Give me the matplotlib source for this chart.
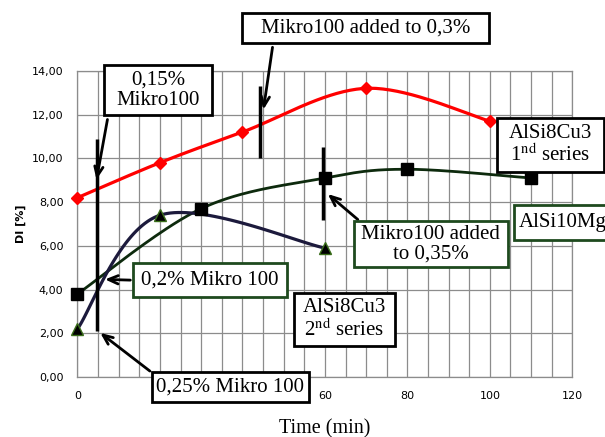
import numpy as np
import matplotlib
matplotlib.use('Agg')
from matplotlib import pyplot as plt
from matplotlib.patches import Rectangle
from matplotlib.ticker import FuncFormatter

plt.rcParams['mathtext.fontset'] = 'stix'

# AlSi8Cu3 1st series (red diamonds)
t_red = [0, 20, 40, 70, 100]
di_red = [8.2, 9.8, 11.2, 13.2, 11.7]

# AlSi10Mg (black squares)
t_mg = [0, 30, 60, 80, 110]
di_mg = [3.8, 7.7, 9.1, 9.5, 9.1]

# AlSi8Cu3 2nd series (triangles)
t_cu2 = [0, 20, 60]
di_cu2 = [2.2, 7.4, 5.9]

# moments of Mikro100 additions: (time, y bottom, y top)
add_lines = [(4.7, 2.1, 10.9), (44.2, 10.0, 13.3), (59.6, 7.2, 10.5)]

x_ticks = [0, 20, 40, 60, 80, 100, 120]
# 20 and 40 sit under the "0,25% Mikro 100" box
x_labels = ['0', '', '', '60', '80', '100', '120']
y_ticks = [0, 2, 4, 6, 8, 10, 12, 14]


def smooth(x, y, n=40):
    # smoothed line like excel (bezier through the points)
    x = np.asarray(x, float)
    y = np.asarray(y, float)
    P = np.c_[x, y]
    P = np.vstack([P[0], P, P[-1]])
    t = np.linspace(0, 1, n)[:, None]
    out = []
    for i in range(len(x) - 1):
        p0, p1, p2, p3 = P[i], P[i + 1], P[i + 2], P[i + 3]
        c1 = p1 + (p2 - p0) / 6
        c2 = p2 - (p3 - p1) / 6
        seg = ((1 - t) ** 3) * p1 + 3 * ((1 - t) ** 2) * t * c1 + 3 * (1 - t) * t ** 2 * c2 + t ** 3 * p2
        out.append(seg)
    out = np.vstack(out)
    return out[:, 0], out[:, 1]


fig = plt.figure(figsize=(6.05, 4.37), dpi=100)
ax = fig.add_axes([0.128, 0.137, 0.818, 0.701])

ax.set_xlim(0, 120)
ax.set_ylim(0, 14)
ax.set_xticks(x_ticks)
ax.set_xticks(np.arange(0, 121, 5), minor=True)
ax.set_yticks(y_ticks)
ax.grid(True, which='major', color='#8c8c8c', lw=0.9)
ax.grid(True, which='minor', axis='x', color='#8c8c8c', lw=0.9)
ax.set_axisbelow(True)
ax.set_xticklabels(x_labels, fontsize=8)
ax.yaxis.set_major_formatter(FuncFormatter(lambda v, p: ('%.2f' % v).replace('.', ',')))
ax.tick_params(axis='y', labelsize=8)
ax.tick_params(which='both', length=0, pad=10)
for s in ax.spines.values():
    s.set_color('#8c8c8c')
    s.set_linewidth(0.9)

ax.set_ylabel('DI [%]', fontsize=8, fontweight='bold', labelpad=4)
ax.set_xlabel('Time (min)', fontsize=14.5, family='Liberation Serif', labelpad=13)

# curves
xs, ys = smooth(t_red, di_red)
ax.plot(xs, ys, color='#ff0000', lw=2.3, zorder=3, clip_on=False)
ax.plot(t_red, di_red, 'D', color='#ff0000', ms=6, zorder=4, clip_on=False)

xs, ys = smooth(t_mg, di_mg)
ax.plot(xs, ys, color='#0d2a0d', lw=2, zorder=3, clip_on=False)
ax.plot(t_mg, di_mg, 's', color='black', ms=8, zorder=4, clip_on=False)

xs, ys = smooth(t_cu2, di_cu2)
ax.plot(xs, ys, color='#1c1a3c', lw=2.3, zorder=3, clip_on=False)
ax.plot(t_cu2, di_cu2, '^', color='black', mec='#3a6e1a', ms=8, zorder=4, clip_on=False)

for x, y0, y1 in add_lines:
    ax.plot([x, x], [y0, y1], color='black', lw=2.5, zorder=5, solid_capstyle='butt')

serif = 'Liberation Serif'
arrow = dict(arrowstyle='->,head_length=0.7,head_width=0.3', color='black', lw=2)
dg = '#1e4a1e'


def label(x0, x1, y0, y1, txt, edge='black', tx=None):
    ax.add_patch(Rectangle((x0, y0), x1 - x0, y1 - y0, fc='white', ec=edge, lw=2,
                           clip_on=False, zorder=6))
    if tx is None:
        ax.text((x0 + x1) / 2, (y0 + y1) / 2, txt, ha='center', va='center', fontsize=15,
                family=serif, clip_on=False, zorder=7, linespacing=1.05)
    else:
        ax.text(tx, (y0 + y1) / 2, txt, ha='left', va='center', fontsize=15,
                family=serif, clip_on=False, zorder=7)


def arr(x0, y0, x1, y1):
    ax.annotate('', xy=(x1, y1), xytext=(x0, y0), arrowprops=arrow,
                annotation_clip=False, zorder=6)


arr(47.4, 15.2, 45.0, 12.1)
label(39.9, 99.8, 15.25, 16.62, 'Mikro100 added to 0,3%')
arr(7.4, 11.9, 4.5, 8.9)
label(6.4, 32.6, 11.96, 14.25, '0,15%\nMikro100')
label(101.7, 127.6, 9.36, 11.83, 'AlSi8Cu3\n1$^{\\rm nd}$ series')
label(105.8, 132.0, 6.26, 7.85, 'AlSi10Mg', edge=dg, tx=106.9)
arr(68.5, 7.12, 60.2, 8.45)
label(67.0, 104.4, 5.02, 7.12, 'Mikro100 added\nto 0,35%', edge=dg)
arr(13.5, 4.43, 6.0, 4.47)
label(13.5, 50.8, 3.65, 5.21, '0,2% Mikro 100', edge=dg)
arr(18.1, 0.2, 5.0, 2.1)
label(18.1, 56.1, -1.14, 0.23, '0,25% Mikro 100')
label(52.5, 77.0, 1.42, 3.84, 'AlSi8Cu3\n2$^{\\rm nd}$ series')

fig.savefig('out.png', dpi=100)
